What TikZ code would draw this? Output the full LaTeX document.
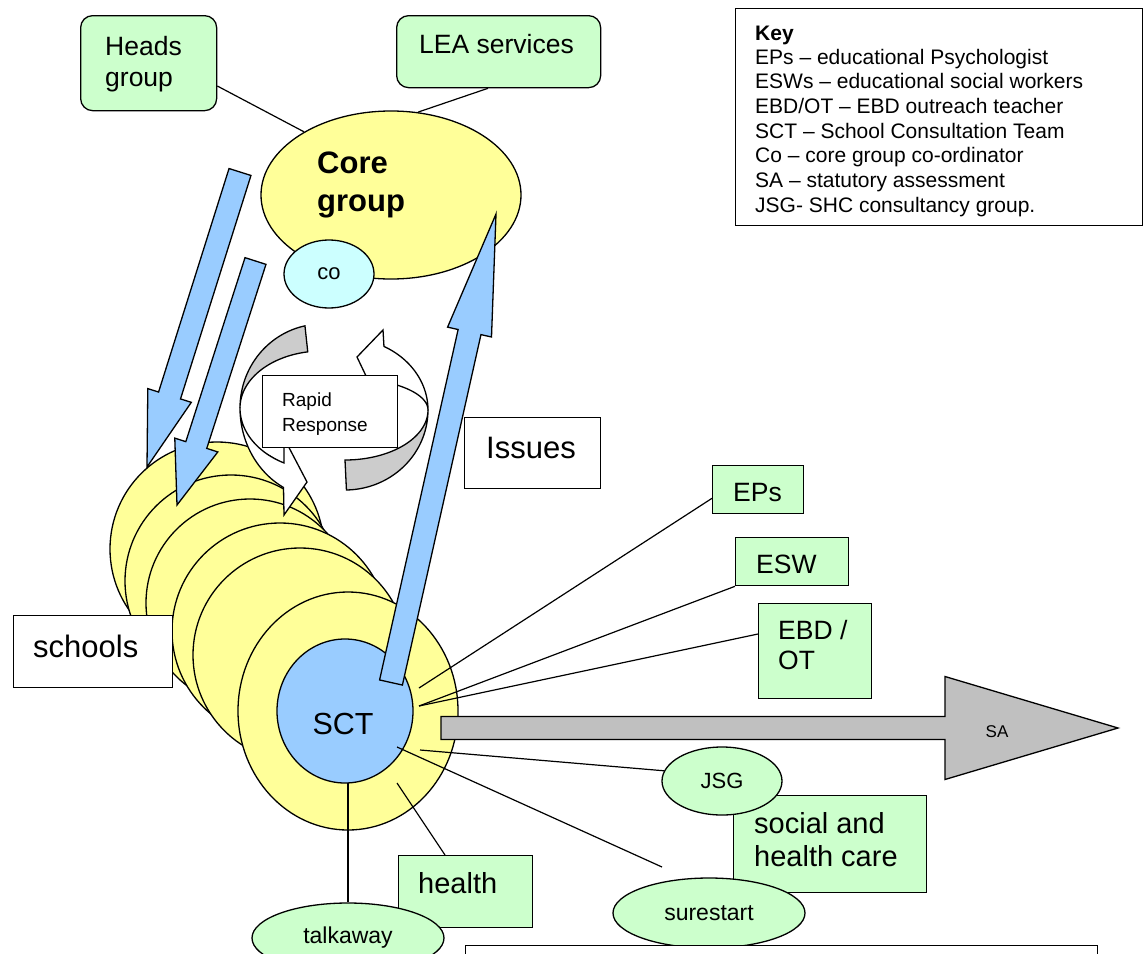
\documentclass[tikz,border=0pt]{standalone}
\usepackage{fontspec}
\setmainfont{Liberation Sans}
\usetikzlibrary{calc,shapes.geometric}

\definecolor{boxgreen}{HTML}{CCFFCC}
\definecolor{coreyellow}{HTML}{FFFF99}
\definecolor{flowblue}{HTML}{99CCFF}
\definecolor{cocyan}{HTML}{CCFFFF}
\definecolor{loopgrey}{HTML}{CCCCCC}
\definecolor{sagrey}{HTML}{C0C0C0}

\newcommand{\fsz}[2]{\fontsize{#1}{#2}\selectfont}

% block arrow: style, tail, tip, half shaft width, half head width, head length
\newcommand{\blockarrow}[6]{%
  \coordinate (ba-b) at ($(#3)!#6!(#2)$);
  \filldraw[#1] ($(#2)!#4!90:(#3)$) -- ($(ba-b)!#4!90:(#3)$) -- ($(ba-b)!#5!90:(#3)$)
    -- (#3) -- ($(ba-b)!#5!-90:(#3)$) -- ($(ba-b)!#4!-90:(#3)$) -- ($(#2)!#4!-90:(#3)$) -- cycle;
}

\tikzset{
  box/.style={draw, line width=1.3pt, inner sep=0pt, anchor=north west},
  greenbox/.style={box, fill=boxgreen},
  roundbox/.style={greenbox, rounded corners=12pt},
  whitebox/.style={box, fill=white},
  oval/.style={draw, ellipse, line width=1.3pt, inner sep=0pt},
  lbl/.style={anchor=base west, inner sep=0pt},
  link/.style={draw, line width=1.2pt},
  outline/.style={draw, line width=1.3pt, line join=miter},
}

\begin{document}
\begin{tikzpicture}[x=1pt, y=-1pt]
\useasboundingbox (0,0) rectangle (1143,953);

% ---- top groups and core
\node[roundbox, minimum width=136pt, minimum height=95pt] (heads) at (80,15) {};
\node[lbl, font=\fsz{26.5}{30}] (headsA) at (105,55) {Heads};
\node[lbl, font=\fsz{26.5}{30}] (headsB) at (105,86) {group};
\node[roundbox, minimum width=204pt, minimum height=72pt] (lea) at (396,15) {};
\node[lbl, font=\fsz{26.5}{30}] (leaT) at (419,53) {LEA services};

\node[oval, fill=coreyellow, minimum width=260pt, minimum height=168pt] (core) at (391,195) {};
\draw[link] ($(heads.north east)+(0,71)$) -- (core.144.5);
\draw[link] ($(lea.south west)+(92,0)$) -- (core.72);
\node[lbl, font=\fsz{31}{36}\bfseries] (coreA) at (317,173) {Core};
\node[lbl, font=\fsz{31}{36}\bfseries] (coreB) at (317,211) {group};
\node[oval, fill=cocyan, minimum width=90pt, minimum height=68pt, font=\fsz{22}{26}] (co) at (329,274) {co};

% ---- stack of school circles
\foreach \cx/\cy/\r [count=\i] in {217/549/107, 231/581/106, 250/603/104, 280/631/108, 300/655/107}
  \node[oval, fill=coreyellow, minimum width=2*\r pt, minimum height=2*\r pt] (school\i) at (\cx,\cy) {};
\node[oval, fill=coreyellow, minimum width=220pt, minimum height=238pt] (front) at (348,711) {};
\node[oval, fill=flowblue, minimum width=136pt, minimum height=144pt] (sct) at (345,711) {};
\node[anchor=base, inner sep=0pt, font=\fsz{30.5}{34}] (sctT) at (343,734) {SCT};

% ---- flow arrows
\coordinate (a1t) at (240,172); \coordinate (a1h) at (147,467);
\coordinate (a2t) at (255.5,261); \coordinate (a2h) at (177,505);
\coordinate (a3t) at (391,682.5); \coordinate (a3h) at (496,214);
\blockarrow{outline, fill=flowblue}{a1t}{a1h}{11.5pt}{22.8pt}{75pt}
\blockarrow{outline, fill=flowblue}{a2t}{a2h}{11pt}{22.6pt}{63pt}
\blockarrow{outline, fill=flowblue}{a3t}{a3h}{11.7pt}{22.5pt}{121pt}

% ---- rapid response loop
\filldraw[outline, fill=loopgrey]
  plot[domain=102:180, samples=40, variable=\t] ({322+82*cos(\t)},{408-84*sin(\t)})
  -- plot[domain=180:100, samples=40, variable=\t] ({322+82*cos(\t)},{408-57*sin(\t)}) -- cycle;
\filldraw[outline, fill=white]
  plot[domain=180:242, samples=40, variable=\t] ({322+82*cos(\t)},{408-90*sin(\t)})
  -- (284,515) -- (307,482) -- (284,438)
  -- plot[domain=242.4:180, samples=40, variable=\t] ({322+82*cos(\t)},{408-62*sin(\t)}) -- cycle;
\filldraw[outline, fill=loopgrey]
  plot[domain=-90:0, samples=40, variable=\t] ({345+83*cos(\t)},{410-50*sin(\t)})
  -- plot[domain=0:-89, samples=40, variable=\t] ({345+83*cos(\t)},{410-80*sin(\t)}) -- cycle;
\filldraw[outline, fill=white]
  plot[domain=0:62, samples=40, variable=\t] ({345+83*cos(\t)},{410-72*sin(\t)})
  -- (383,330) -- (357,357) -- (367,378)
  -- plot[domain=74.6:0, samples=40, variable=\t] ({345+83*cos(\t)},{410-32*sin(\t)}) -- cycle;
\node[whitebox, minimum width=135pt, minimum height=72pt] (rr) at (262,375) {};
\node[lbl, font=\fsz{19}{25}] (rrA) at (282,406) {Rapid};
\node[lbl, font=\fsz{19}{25}] (rrB) at (282,431) {Response};

\node[whitebox, minimum width=136pt, minimum height=71pt] (issues) at (464,417) {};
\node[lbl, font=\fsz{31}{36}] (issuesT) at (486,458) {Issues};
\node[whitebox, minimum width=159pt, minimum height=72pt] (schools) at (13,615) {};
\node[lbl, font=\fsz{31}{36}] (schoolsT) at (33,657) {schools};

% ---- links from the SCT ring to services
\coordinate (ringEP) at (419,688);
\coordinate (ringES) at (419,706);
\coordinate (ringJ) at (420,750);
\coordinate (ringS) at (397,747);
\coordinate (ringH) at (397,783);
\coordinate (ringT) at (348,783);
\coordinate (sureEnd) at (662,867);

\node[greenbox, minimum width=91pt, minimum height=48pt] (eps) at (712,465) {};
\node[lbl, font=\fsz{26.5}{30}] (epsT) at (733,501) {EPs};
\node[greenbox, minimum width=113pt, minimum height=48pt] (esw) at (735,537) {};
\node[lbl, font=\fsz{26.5}{30}] (eswT) at (756,573) {ESW};
\node[greenbox, minimum width=113pt, minimum height=95pt] (ebd) at (758,603) {};
\node[lbl, font=\fsz{26.5}{30}] (ebdA) at (778,639) {EBD /};
\node[lbl, font=\fsz{26.5}{30}] (ebdB) at (778,669) {OT};
\node[greenbox, minimum width=193pt, minimum height=97pt] (social) at (733,795) {};
\node[lbl, font=\fsz{29}{33}] (socialA) at (754,833) {social and};
\node[lbl, font=\fsz{29}{33}] (socialB) at (754,866) {health care};
\node[greenbox, minimum width=134pt, minimum height=72pt] (health) at (398,855) {};
\node[lbl, font=\fsz{29}{33}] (healthT) at (418,893) {health};
\node[oval, fill=boxgreen, minimum width=120pt, minimum height=68pt, font=\fsz{22}{26}] (jsg) at (722,781) {JSG};
\node[oval, fill=boxgreen, minimum width=192pt, minimum height=70pt, font=\fsz{23}{26}] (sure) at (709,913) {surestart};
\node[oval, fill=boxgreen, minimum width=192pt, minimum height=70pt, font=\fsz{23}{26}] (talk) at (348,938) {talkaway};

\draw[link] (ringEP) -- ($(eps.south west)+(0,-16)$);
\draw[link] (ringES) -- (esw.south west);
\draw[link] (ringES) -- ($(ebd.north west)+(0,31)$);
\draw[link] (ringJ) -- (jsg.170);
\draw[link] (ringS) -- (sureEnd);
\draw[link] (ringH) -- ($(health.north west)+(47,0)$);
\draw[link] (ringT) -- (talk.north);

% ---- statutory assessment arrow
\coordinate (saTail) at (441,728); \coordinate (saTip) at (1118,728);
\blockarrow{outline, fill=sagrey}{saTail}{saTip}{11.5pt}{51.5pt}{173pt}
\node[anchor=base, inner sep=0pt, font=\fsz{17}{20}] (saT) at (997,737) {SA};

% ---- key
\node[whitebox, minimum width=407pt, minimum height=217pt] (key) at (735,8) {};
\node[lbl, font=\fsz{21}{24}\bfseries] (keyT) at (755,40) {Key};
\foreach \txt [count=\i] in {EPs – educational Psychologist, ESWs – educational social workers,
  EBD/OT – EBD outreach teacher, SCT – School Consultation Team, Co – core group co-ordinator,
  SA – statutory assessment, JSG- SHC consultancy group.}
  \node[lbl, font=\fsz{21}{24}] (key\i) at (755,{64+24.7*(\i-1)}) {\txt};

% ---- note box along the lower edge
\node[whitebox, minimum width=632pt, minimum height=40pt] (note) at (465,945) {};
\end{tikzpicture}
\end{document}
